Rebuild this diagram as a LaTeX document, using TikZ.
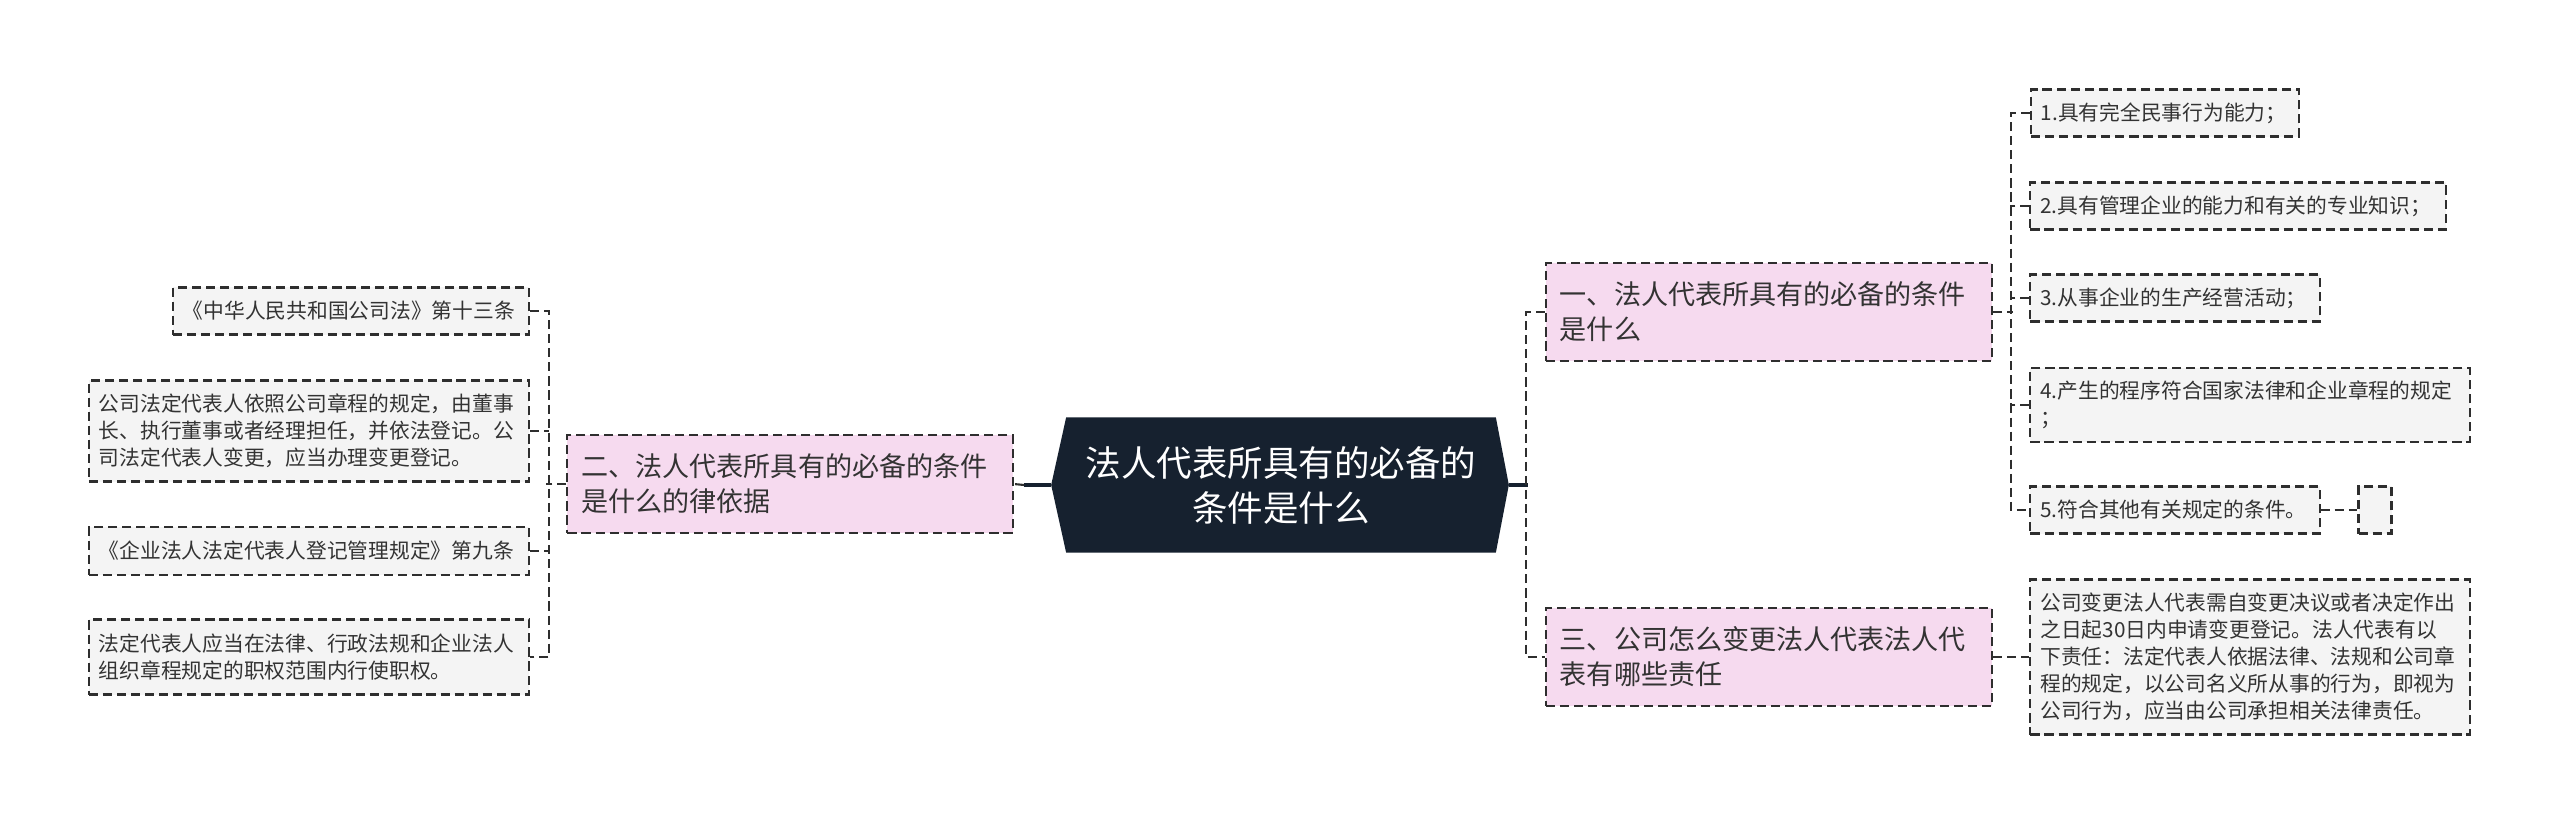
\documentclass[tikz,border=0pt]{standalone}
\usepackage{fontspec}
\newfontfamily\cjk{Noto Sans CJK SC}
\usepackage{tikz}
\usetikzlibrary{backgrounds}
\definecolor{RootNavy}{HTML}{16212F}
\definecolor{BranchPink}{HTML}{F6DAEF}
\definecolor{LeafGray}{HTML}{F4F4F4}
\definecolor{LineGray}{HTML}{2E2E2E}
\definecolor{TextGray}{HTML}{333333}
\tikzset{
  rootbox/.style={font=\cjk\fontsize{10.1pt}{12.8pt}\selectfont, text=white, align=center,
    minimum width=4.28cm, minimum height=1.34cm, inner sep=0pt},
  branchbox/.style={draw=LineGray, line width=0.6pt, dash pattern=on 2.6pt off 1.4pt,
    fill=BranchPink, text=TextGray, font=\cjk\fontsize{7.7pt}{10pt}\selectfont,
    align=left, inner xsep=0.14cm, inner ysep=0pt, minimum height=0.98cm},
  leafbox/.style={draw=LineGray, line width=0.6pt, dash pattern=on 2.6pt off 1.4pt,
    fill=LeafGray, text=TextGray, font=\cjk\fontsize{5.9pt}{7.7pt}\selectfont,
    align=left, inner xsep=0.1cm, inner ysep=0pt, minimum height=0.47cm},
  link/.style={draw=LineGray, line width=0.6pt, dash pattern=on 2.6pt off 1.4pt},
  stem/.style={draw=RootNavy, line width=0.9pt}
}
\begin{document}
\begin{tikzpicture}[x=0.01cm, y=-0.01cm]
  \useasboundingbox (0,0) rectangle (2560,825);
  % centre
  \node[rootbox] (root) at (1281,485) {法人代表所具有的必备的\\条件是什么};
  \coordinate (rootL) at ([xshift=-0.15cm]root.west);
  \coordinate (rootR) at ([xshift=0.13cm]root.east);
  \begin{scope}[on background layer]
    \fill[white] (0,0) rectangle (2560,825);
    \fill[RootNavy] (root.north west) -- (root.north east) -- (rootR)
      -- (root.south east) -- (root.south west) -- (rootL) -- cycle;
  \end{scope}
  % branches
  \node[branchbox, text width=4.18cm] (b1) at (1769,312) {一、法人代表所具有的必备的条件\\是什么};
  \node[branchbox, text width=4.18cm] (b3) at (1769,657) {三、公司怎么变更法人代表法人代\\表有哪些责任};
  \node[branchbox, text width=4.17cm] (b2) at (790,484) {二、法人代表所具有的必备的条件\\是什么的律依据};
  % right leaves
  \node[leafbox, text width=2.48cm] (i1) at (2165,113) {1.具有完全民事行为能力；};
  \node[leafbox, text width=3.95cm] (i2) at (2238,206) {2.具有管理企业的能力和有关的专业知识；};
  \node[leafbox, text width=2.69cm] (i3) at (2175,298) {3.从事企业的生产经营活动；};
  \node[leafbox, text width=4.19cm, minimum height=0.74cm] (i4) at (2250,405) {4.产生的程序符合国家法律和企业章程的规定\\；};
  \node[leafbox, text width=2.69cm] (i5) at (2175,510) {5.符合其他有关规定的条件。};
  \node[leafbox, minimum width=0.33cm, inner xsep=0pt] (e5) at (2375,510) {};
  \node[leafbox, text width=4.19cm, minimum height=1.55cm] (d3) at (2250,657) {公司变更法人代表需自变更决议或者决定作出\\之日起30日内申请变更登记。法人代表有以\\下责任：法定代表人依据法律、法规和公司章\\程的规定，以公司名义所从事的行为，即视为\\公司行为，应当由公司承担相关法律责任。};
  % left leaves
  \node[leafbox, text width=3.36cm] (L1) at (351,311) {《中华人民共和国公司法》第十三条};
  \node[leafbox, text width=4.2cm, minimum height=1.01cm] (L2) at (309,431) {公司法定代表人依照公司章程的规定，由董事\\长、执行董事或者经理担任，并依法登记。公\\司法定代表人变更，应当办理变更登记。};
  \node[leafbox, text width=4.2cm, minimum height=0.48cm] (L3) at (309,551) {《企业法人法定代表人登记管理规定》第九条};
  \node[leafbox, text width=4.2cm, minimum height=0.75cm] (L4) at (309,657) {法定代表人应当在法律、行政法规和企业法人\\组织章程规定的职权范围内行使职权。};
  % connectors right
  \draw[stem] (rootR) -- ++(19,0) coordinate (rj);
  \draw[link] (b1.west) -- ++(-19,0) |- (b3.west);
  \draw[link] (b1.east) -- ++(20,0);
  \draw[link] (i1.west) -- ++(-19,0) |- (i5.west);
  \foreach \n in {i2,i3,i4}
    \draw[link] (\n.west) -- ++(-19,0);
  \draw[link] (i5.east) -- (e5.west);
  \draw[link] (b3.east) -- (d3.west);
  % connectors left
  \draw[stem] (rootL) -- ++(-27,0) coordinate (lj);
  \draw[link] (lj) -- (b2.east);
  \draw[link] (b2.west) -- ++(-20,0);
  \draw[link] (L1.east) -- ++(19,0) |- (L4.east);
  \foreach \n in {L2,L3}
    \draw[link] (\n.east) -- ++(19,0);
\end{tikzpicture}
\end{document}
